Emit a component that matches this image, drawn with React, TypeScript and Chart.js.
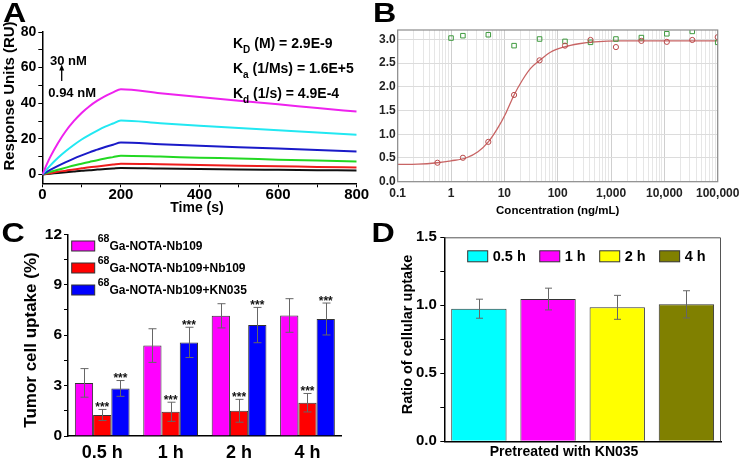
import React, { useEffect, useRef } from 'react';
import { Chart, registerables } from 'chart.js';

Chart.register(...registerables);

const FONT = '"Liberation Sans", Arial, Helvetica, sans-serif';

/* ---------------- Panel A : SPR sensorgram ---------------- */
const sprTime = [0, 20, 40, 60, 80, 100, 120, 140, 160, 180, 200, 300, 400, 500, 600, 700, 800];
const spr30nM = [0, 9.7, 17.7, 24.4, 29.9, 34.5, 38.3, 41.4, 44.0, 46.1, 47.9, 45.6, 43.5, 41.4, 39.4, 37.3, 35.3];
const spr15nM = [0, 4.9, 9.3, 13.1, 16.5, 19.6, 22.2, 24.6, 26.8, 28.6, 30.3, 28.8, 27.4, 26.1, 24.8, 23.5, 22.3];
const spr7_5nM = [0, 2.5, 4.8, 6.9, 8.9, 10.7, 12.4, 13.9, 15.4, 16.7, 17.9, 17.0, 16.1, 15.3, 14.5, 13.7, 12.9];
const spr3_75nM = [0, 1.4, 2.6, 3.8, 5.0, 6.0, 7.0, 8.0, 8.9, 9.7, 10.5, 10.0, 9.4, 8.9, 8.3, 7.8, 7.3];
const spr1_88nM = [0, 0.7, 1.5, 2.1, 2.8, 3.4, 4.0, 4.5, 5.0, 5.5, 6.0, 5.7, 5.3, 4.9, 4.6, 4.2, 3.9];
const spr0_94nM = [0, 0.4, 0.8, 1.2, 1.6, 2.0, 2.3, 2.7, 3.0, 3.3, 3.6, 3.3, 3.1, 2.8, 2.6, 2.4, 2.2];
const sprLabels = ['30 nM', '15 nM', '7.5 nM', '3.75 nM', '1.88 nM', '0.94 nM'];
const sprValues = [spr30nM, spr15nM, spr7_5nM, spr3_75nM, spr1_88nM, spr0_94nM];
const sprColors = ['#ee22ee', '#22e8f2', '#1a1ac8', '#22d822', '#ee1c1c', '#111111'];
const sprXTickLabels = [0, 200, 400, 600, 800];
const sprYTickLabels = [0, 20, 40, 60, 80];
const kSymbol = ['K', 'K', 'K'];
const kSub = ['D', 'a', 'd'];
const kUnit = ['(M)', '(1/Ms)', '(1/s)'];
const kValue = ['2.9E-9', '1.6E+5', '4.9E-4'];
const concHigh = '30 nM';
const concLow = '0.94 nM';

/* ---------------- Panel B : binding curve ---------------- */
const bConcNb109 = [0.556, 1.67, 5.0, 15.2, 45.7, 137, 412, 1235, 3704, 11111, 33333, 100000];
const bOdNb109 = [0.40, 0.505, 0.84, 1.83, 2.56, 2.87, 2.99, 2.84, 2.97, 2.95, 2.99, 3.05];
const bConcCtrl = [1.0, 1.67, 5.0, 15.2, 45.7, 137, 412, 1235, 3704, 11111, 33333, 100000];
const bOdCtrl = [3.03, 3.08, 3.10, 2.87, 3.01, 2.96, 2.94, 3.01, 3.04, 3.12, 3.17, 2.94];
const bFitConc = [0.1, 0.24, 0.55, 1.0, 1.95, 3.2, 5.0, 7.4, 10.6, 15.2, 21.7, 31, 46, 73, 130, 250, 500, 1500, 10000, 100000];
const bFitOd = [0.365, 0.37, 0.40, 0.44, 0.505, 0.63, 0.84, 1.12, 1.44, 1.83, 2.14, 2.39, 2.56, 2.73, 2.84, 2.91, 2.95, 2.97, 2.97, 2.97];
const bXTickValues = [0.1, 1, 10, 100, 1000, 10000, 100000];
const bXTickLabels = ['0.1', '1', '10', '100', '1,000', '10,000', '100,000'];
const bYTickValues = [0, 0.5, 1, 1.5, 2, 2.5, 3];
const bYTickLabels = ['0.0', '0.5', '1.0', '1.5', '2.0', '2.5', '3.0'];
const bXTitle = 'Concentration (ng/mL)';

/* ---------------- Panel C : tumor cell uptake ---------------- */
const cTimes = ['0.5 h', '1 h', '2 h', '4 h'];
const cSeriesLabels = ['68Ga-NOTA-Nb109', '68Ga-NOTA-Nb109+Nb109', '68Ga-NOTA-Nb109+KN035'];
const cUptake = [3.16, 5.38, 7.15, 7.17];
const cUptakeSD = [0.85, 1.0, 0.72, 1.0];
const cBlockNb109 = [1.25, 1.44, 1.50, 1.98];
const cBlockNb109SD = [0.33, 0.57, 0.68, 0.55];
const cBlockKN035 = [2.83, 5.57, 6.60, 6.96];
const cBlockKN035SD = [0.47, 0.90, 1.05, 0.95];
const cSignif = ['', '***', '***'];
const cYTickLabels = [0, 3, 6, 9, 12];
const cYTitle = 'Tumor cell uptake (%)';

/* ---------------- Panel D : ratio of cellular uptake ---------------- */
const dCategory = ['Pretreated with KN035'];
const dTimes = ['0.5 h', '1 h', '2 h', '4 h'];
const dRatio = [0.975, 1.046, 0.985, 1.007];
const dRatioSD = [0.07, 0.08, 0.088, 0.10];
const dYTickValues = [0, 0.5, 1, 1.5];
const dYTickLabels = ['0.0', '0.5', '1.0', '1.5'];
const dYTitle = 'Ratio of cellular uptake';

/* ---------------- helpers ---------------- */
const fnt = (size: number) => ({ family: FONT, size, weight: 'bold' as const, lineHeight: 1 });

function drawRuns(ctx: any, x: number, y: number, parts: any[], color = '#000') {
  let cx = x;
  ctx.save();
  ctx.fillStyle = color;
  ctx.textAlign = 'left';
  ctx.textBaseline = 'alphabetic';
  for (const p of parts) {
    ctx.font = `bold ${p.size}px ${FONT}`;
    ctx.fillText(p.t, cx, y + (p.dy || 0));
    cx += ctx.measureText(p.t).width;
  }
  ctx.restore();
  return cx;
}

function centerText(ctx: any, text: string, x: number, y: number, size: number, rotate = false, color = '#000') {
  ctx.save();
  ctx.translate(x, y);
  if (rotate) ctx.rotate(-Math.PI / 2);
  ctx.font = `bold ${size}px ${FONT}`;
  ctx.fillStyle = color;
  ctx.textAlign = 'center';
  ctx.textBaseline = 'middle';
  ctx.fillText(text, 0, 0);
  ctx.restore();
}

function panelLetter(ctx: any, letter: string, x: number, baseline: number) {
  ctx.save();
  ctx.translate(x, baseline);
  ctx.scale(1.15, 1);
  ctx.font = `bold 28px ${FONT}`;
  ctx.fillStyle = '#000';
  ctx.textBaseline = 'alphabetic';
  ctx.textAlign = 'left';
  ctx.fillText(letter, 0, 0);
  ctx.restore();
}

const errorBarPlugin = {
  id: 'errorBars',
  afterDatasetsDraw(chart: any) {
    const { ctx } = chart;
    const ys = chart.scales.y;
    chart.data.datasets.forEach((ds: any, di: number) => {
      if (!ds.errors) return;
      const meta = chart.getDatasetMeta(di);
      meta.data.forEach((el: any, i: number) => {
        const v = ds.data[i];
        const e = ds.errors[i];
        const yt = ys.getPixelForValue(v + e);
        const yb = ys.getPixelForValue(v - e);
        const x = Math.round(el.x) + 0.5;
        const cw = ds.capHalf || 4;
        ctx.save();
        ctx.strokeStyle = '#666';
        ctx.lineWidth = 1;
        ctx.beginPath();
        ctx.moveTo(x, yt);
        ctx.lineTo(x, yb);
        ctx.moveTo(x - cw, yt);
        ctx.lineTo(x + cw, yt);
        ctx.moveTo(x - cw, yb);
        ctx.lineTo(x + cw, yb);
        ctx.stroke();
        if (ds.sig) {
          ctx.font = `bold 12px ${FONT}`;
          ctx.fillStyle = '#111';
          ctx.textAlign = 'center';
          ctx.textBaseline = 'alphabetic';
          ctx.fillText(ds.sig, el.x, yt + 1.5);
        }
        ctx.restore();
      });
    });
  },
};

function ChartBox({ left, top, width, height, make }: any) {
  const ref = useRef<HTMLCanvasElement>(null);
  useEffect(() => {
    const chart = new Chart(ref.current as HTMLCanvasElement, make());
    return () => chart.destroy();
  }, []);
  return (
    <div style={{ position: 'absolute', left, top, width, height }}>
      <canvas ref={ref} width={width} height={height} style={{ display: 'block', width, height }} />
    </div>
  );
}

/* ---------------- Panel A config ---------------- */
function makeA(): any {
  return {
    type: 'line',
    data: {
      datasets: sprValues.map((vals, k) => ({
        label: sprLabels[k],
        data: sprTime.map((t, i) => ({ x: t, y: vals[i] })),
        borderColor: sprColors[k],
        borderWidth: 2,
        pointRadius: 0,
        fill: false,
        cubicInterpolationMode: 'monotone',
      })),
    },
    options: {
      responsive: false,
      animation: false,
      layout: { padding: { left: 0, right: 18.3, top: 32, bottom: 8.7 } },
      plugins: { legend: { display: false }, tooltip: { enabled: false } },
      scales: {
        x: {
          type: 'linear',
          min: 0,
          max: 800,
          afterBuildTicks: (s: any) => {
            const t = [];
            for (let v = 0; v <= 800; v += 100) t.push({ value: v });
            s.ticks = t;
          },
          afterFit: (s: any) => { s.height = 30; },
          ticks: {
            autoSkip: false,
            maxRotation: 0,
            padding: 0,
            color: '#000',
            font: fnt(15),
            callback: (v: any) => (sprXTickLabels.includes(v) ? String(v) : ''),
          },
          grid: { drawOnChartArea: false, tickLength: 4, color: '#000', lineWidth: 1 },
          border: { color: '#000', width: 1.5 },
        },
        y: {
          type: 'linear',
          min: -5,
          max: 80,
          afterBuildTicks: (s: any) => {
            const t = [];
            for (let v = 0; v <= 80; v += 10) t.push({ value: v });
            s.ticks = t;
          },
          afterFit: (s: any) => { s.width = 42.3; },
          ticks: {
            autoSkip: false,
            padding: 2,
            color: '#000',
            font: fnt(14),
            callback: (v: any) => (sprYTickLabels.includes(v) ? String(v) : ''),
          },
          grid: { drawOnChartArea: false, tickLength: 4, color: '#000', lineWidth: 1 },
          border: { color: '#000', width: 1.5 },
        },
      },
    },
    plugins: [
      {
        id: 'panelA',
        afterDraw(chart: any) {
          const { ctx } = chart;
          panelLetter(ctx, 'A', 3, 21.7);
          centerText(ctx, 'Response Units (RU)', 10, 96, 15, true);
          centerText(ctx, 'Time (s)', 197, 208, 14);
          // concentration range with arrow
          drawRuns(ctx, 50, 65, [{ t: concHigh, size: 13 }]);
          drawRuns(ctx, 48.3, 97.3, [{ t: concLow, size: 13 }]);
          ctx.save();
          ctx.strokeStyle = '#000';
          ctx.fillStyle = '#000';
          ctx.lineWidth = 1.3;
          ctx.beginPath();
          ctx.moveTo(61.7, 81);
          ctx.lineTo(61.7, 69);
          ctx.stroke();
          ctx.beginPath();
          ctx.moveTo(61.7, 64.5);
          ctx.lineTo(59.2, 70.5);
          ctx.lineTo(64.2, 70.5);
          ctx.closePath();
          ctx.fill();
          ctx.restore();
          // kinetic constants
          const base = [48.3, 73.3, 98.3];
          for (let i = 0; i < kSymbol.length; i++) {
            drawRuns(ctx, 233, base[i], [
              { t: kSymbol[i], size: 14 },
              { t: kSub[i], size: 10, dy: 4.5 },
              { t: ' ' + kUnit[i] + ' = ' + kValue[i], size: 14 },
            ]);
          }
        },
      },
    ],
  };
}

/* ---------------- Panel B config ---------------- */
function isPow10(v: number) {
  return bXTickValues.some((tv) => Math.abs(tv - v) / tv < 1e-9);
}

function makeB(): any {
  return {
    type: 'scatter',
    data: {
      datasets: [
        {
          label: 'Nb109',
          data: bConcNb109.map((c, i) => ({ x: c, y: bOdNb109[i] })),
          pointStyle: 'circle',
          pointRadius: 2.6,
          borderColor: '#b94a4a',
          backgroundColor: 'rgba(0,0,0,0)',
          borderWidth: 1,
        },
        {
          label: 'Control',
          data: bConcCtrl.map((c, i) => ({ x: c, y: bOdCtrl[i] })),
          pointStyle: 'rect',
          pointRadius: 3.2,
          borderColor: '#3f9a3f',
          backgroundColor: 'rgba(0,0,0,0)',
          borderWidth: 1,
        },
        {
          label: 'Fit',
          data: bFitConc.map((c, i) => ({ x: c, y: bFitOd[i] })),
          showLine: true,
          borderColor: '#c86464',
          borderWidth: 1.3,
          pointRadius: 0,
          cubicInterpolationMode: 'monotone',
          fill: false,
        },
      ],
    },
    options: {
      responsive: false,
      animation: false,
      layout: { padding: { left: 0, right: 24.7, top: 30, bottom: 10.3 } },
      plugins: { legend: { display: false }, tooltip: { enabled: false } },
      scales: {
        x: {
          type: 'logarithmic',
          min: 0.1,
          max: 100000,
          afterBuildTicks: (s: any) => {
            const t = [];
            for (let e = -1; e <= 4; e++) for (let k = 1; k <= 9; k++) t.push({ value: k * Math.pow(10, e) });
            t.push({ value: 100000 });
            s.ticks = t;
          },
          afterFit: (s: any) => { s.height = 30; },
          ticks: {
            autoSkip: false,
            maxRotation: 0,
            padding: 5.6,
            color: '#222',
            font: fnt(12),
            callback: (v: any) => {
              const i = bXTickValues.findIndex((tv) => Math.abs(tv - v) / tv < 1e-9);
              return i >= 0 ? bXTickLabels[i] : '';
            },
          },
          grid: {
            drawTicks: false,
            lineWidth: 1,
            color: (c: any) => (c.tick && isPow10(c.tick.value) ? '#cfcfcf' : '#e6e6e6'),
          },
          border: { display: false },
        },
        y: {
          type: 'linear',
          min: 0,
          max: 3.2,
          afterBuildTicks: (s: any) => {
            s.ticks = bYTickValues.map((v) => ({ value: v }));
          },
          afterFit: (s: any) => { s.width = 32.7; },
          ticks: {
            autoSkip: false,
            padding: 2,
            color: '#222',
            font: fnt(12),
            callback: (v: any) => {
              const i = bYTickValues.indexOf(v);
              return i >= 0 ? bYTickLabels[i] : '';
            },
          },
          grid: { drawTicks: false, color: '#dcdcdc', lineWidth: 1 },
          border: { display: false },
        },
      },
    },
    plugins: [
      {
        id: 'panelB',
        afterDraw(chart: any) {
          const { ctx, chartArea: a } = chart;
          ctx.save();
          ctx.strokeStyle = '#8c8c8c';
          ctx.lineWidth = 1.2;
          ctx.strokeRect(a.left, a.top, a.right - a.left, a.bottom - a.top);
          ctx.restore();
          panelLetter(ctx, 'B', 8, 22);
          centerText(ctx, bXTitle, (a.left + a.right) / 2, 211, 11.5);
        },
      },
    ],
  };
}

/* ---------------- Panel C config ---------------- */
function makeC(): any {
  const colors = ['#ff00ff', '#ff0000', '#0000ff'];
  const vals = [cUptake, cBlockNb109, cBlockKN035];
  const sds = [cUptakeSD, cBlockNb109SD, cBlockKN035SD];
  return {
    type: 'bar',
    data: {
      labels: cTimes,
      datasets: vals.map((v, k) => ({
        label: cSeriesLabels[k],
        data: v,
        errors: sds[k],
        sig: cSignif[k],
        capHalf: 4,
        backgroundColor: colors[k],
        borderColor: '#333',
        borderWidth: 1,
        categoryPercentage: 0.8,
        barPercentage: 1.0,
      })),
    },
    options: {
      responsive: false,
      animation: false,
      layout: { padding: { left: 0, right: 33.3, top: 19.3, bottom: 0 } },
      plugins: { legend: { display: false }, tooltip: { enabled: false } },
      scales: {
        x: {
          afterFit: (s: any) => { s.height = 24; },
          ticks: { color: '#000', font: fnt(18), padding: 8, maxRotation: 0, autoSkip: false },
          grid: { drawOnChartArea: false, drawTicks: false, color: '#000' },
          border: { color: '#000', width: 1.5 },
        },
        y: {
          type: 'linear',
          min: 0,
          max: 12,
          afterBuildTicks: (s: any) => {
            const t = [];
            for (let v = 0; v <= 12; v += 1.5) t.push({ value: v });
            s.ticks = t;
          },
          afterFit: (s: any) => { s.width = 68; },
          ticks: {
            autoSkip: false,
            padding: 2,
            color: '#000',
            font: fnt(15.5),
            callback: (v: any) => (cYTickLabels.includes(v) ? String(v) : ''),
          },
          grid: { drawOnChartArea: false, tickLength: 4, color: '#000', lineWidth: 1 },
          border: { color: '#000', width: 1.5 },
        },
      },
    },
    plugins: [
      errorBarPlugin,
      {
        id: 'panelC',
        afterDraw(chart: any) {
          const { ctx } = chart;
          panelLetter(ctx, 'C', 1.5, 26.7);
          centerText(ctx, cYTitle, 31.7, 125, 17, true);
          const rows = [31, 53, 75];
          chart.data.datasets.forEach((ds: any, k: number) => {
            const y = rows[k];
            ctx.save();
            ctx.fillStyle = ds.backgroundColor;
            ctx.fillRect(71.7, y - 5, 23, 10);
            ctx.strokeStyle = '#333';
            ctx.lineWidth = 1;
            ctx.strokeRect(71.7, y - 5, 23, 10);
            ctx.restore();
            const m = String(ds.label).match(/^(\d+)(.*)$/);
            const sup = m ? m[1] : '';
            const main = m ? m[2] : ds.label;
            drawRuns(ctx, 97.7, y, [
              { t: sup, size: 10.5, dy: -4 },
              { t: main, size: 12, dy: 4.2 },
            ]);
          });
        },
      },
    ],
  };
}

/* ---------------- Panel D config ---------------- */
function makeD(): any {
  const colors = ['#00ffff', '#ff00ff', '#ffff00', '#808000'];
  return {
    type: 'bar',
    data: {
      labels: dCategory,
      datasets: dTimes.map((t, k) => ({
        label: t,
        data: [dRatio[k]],
        errors: [dRatioSD[k]],
        capHalf: 3.5,
        backgroundColor: colors[k],
        borderColor: '#333',
        borderWidth: 1,
        categoryPercentage: 1.0,
        barPercentage: 0.8,
      })),
    },
    options: {
      responsive: false,
      animation: false,
      layout: { padding: { left: 0, right: 19, top: 17.3, bottom: 0 } },
      plugins: { legend: { display: false }, tooltip: { enabled: false } },
      scales: {
        x: {
          afterFit: (s: any) => { s.height = 18.7; },
          ticks: { color: '#000', font: fnt(14), padding: 3.5, labelOffset: -18.6, maxRotation: 0 },
          grid: { drawOnChartArea: false, drawTicks: false, color: '#000' },
          border: { color: '#000', width: 1.5 },
        },
        y: {
          type: 'linear',
          min: 0,
          max: 1.5,
          afterBuildTicks: (s: any) => {
            const t = [];
            for (let v = 0; v <= 1.5; v += 0.25) t.push({ value: v });
            s.ticks = t;
          },
          afterFit: (s: any) => { s.width = 74.3; },
          ticks: {
            autoSkip: false,
            padding: 3.5,
            color: '#000',
            font: fnt(15),
            callback: (v: any) => {
              const i = dYTickValues.indexOf(v);
              return i >= 0 ? dYTickLabels[i] : '';
            },
          },
          grid: { drawOnChartArea: false, tickLength: 4, color: '#000', lineWidth: 1 },
          border: { color: '#000', width: 1.5 },
        },
      },
    },
    plugins: [
      errorBarPlugin,
      {
        id: 'panelD',
        afterDraw(chart: any) {
          const { ctx, chartArea: a } = chart;
          ctx.save();
          ctx.strokeStyle = '#555';
          ctx.lineWidth = 1;
          ctx.beginPath();
          ctx.moveTo(a.left, a.top + 0.5);
          ctx.lineTo(a.right - 0.5, a.top + 0.5);
          ctx.lineTo(a.right - 0.5, a.bottom);
          ctx.stroke();
          ctx.restore();
          panelLetter(ctx, 'D', 1.5, 21.7);
          centerText(ctx, dYTitle, 38, 114.5, 14.5, true);
          // legend
          let x = 97.7;
          const yc = 36.3;
          chart.data.datasets.forEach((ds: any) => {
            ctx.save();
            ctx.fillStyle = ds.backgroundColor;
            ctx.fillRect(x, yc - 5.5, 20, 11);
            ctx.strokeStyle = '#333';
            ctx.lineWidth = 1;
            ctx.strokeRect(x, yc - 5.5, 20, 11);
            ctx.restore();
            const end = drawRuns(ctx, x + 25, yc + 5, [{ t: ds.label, size: 14.5 }]);
            x = end + 14;
          });
        },
      },
    ],
  };
}

export default function App() {
  return (
    <div
      style={{
        position: 'absolute',
        left: 0,
        top: 0,
        width: 740,
        height: 460,
        overflow: 'hidden',
        background: '#fff',
      }}
    >
      <ChartBox left={0} top={0} width={375} height={222} make={makeA} />
      <ChartBox left={365} top={0} width={380} height={222} make={makeB} />
      <ChartBox left={0} top={215} width={375} height={245} make={makeC} />
      <ChartBox left={370} top={220} width={370} height={240} make={makeD} />
    </div>
  );
}
